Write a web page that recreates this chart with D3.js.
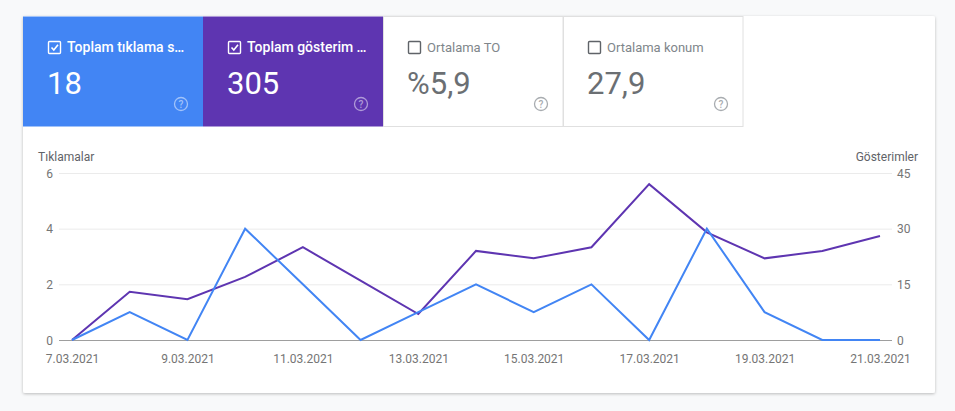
<!DOCTYPE html>
<html>
<head>
<meta charset="utf-8">
<script src="https://cdn.jsdelivr.net/npm/d3@7"></script>
<style>
  body { margin: 0; background: #f8f9fa; font-family: Roboto, "Noto Sans", sans-serif; }
</style>
</head>
<body>
<script>
// size of the page
var W = 955, H = 411;

// data
var dates = ["7.03.2021","8.03.2021","9.03.2021","10.03.2021","11.03.2021","12.03.2021","13.03.2021",
             "14.03.2021","15.03.2021","16.03.2021","17.03.2021","18.03.2021","19.03.2021","20.03.2021","21.03.2021"];
var clicks = [0, 1, 0, 4, 2, 0, 1, 2, 1, 2, 0, 4, 1, 0, 0];
var impressions = [0, 13, 11, 17, 25, 16, 7, 24, 22, 25, 42, 29, 22, 24, 28];
var leftTicks = [0, 2, 4, 6];
var rightTicks = [0, 15, 30, 45];

// the four tiles on top
var tileLabels = ["Toplam tıklama s…", "Toplam gösterim …", "Ortalama TO", "Ortalama konum"];
var tileValues = ["18", "305", "%5,9", "27,9"];
var tileChecked = [true, true, false, false];
var tileColors = ["#4285f4", "#5e35b1", "#ffffff", "#ffffff"];

var svg = d3.select("body").append("svg")
  .attr("width", W)
  .attr("height", H);

var defs = svg.append("defs");
var f = defs.append("filter").attr("id", "shadow").attr("x", "-5%").attr("y", "-5%").attr("width", "110%").attr("height", "115%");
f.append("feDropShadow").attr("dx", 0).attr("dy", 1).attr("stdDeviation", 1.5).attr("flood-color", "#000").attr("flood-opacity", 0.25);

//the card
svg.append("rect")
  .attr("x", 23).attr("y", 16)
  .attr("width", 912).attr("height", 377)
  .attr("rx", 2)
  .style("fill", "white")
  .attr("filter", "url(#shadow)");

var tileW = 180, tileH = 110;
var tiles = svg.selectAll("g.tile")
  .data(tileLabels)
  .enter().append("g")
  .attr("class", "tile")
  .attr("transform", function(d, i){return "translate(" + (23 + i*tileW) + ", 16)"});

tiles.append("rect")
  .attr("x", function(d, i){return tileChecked[i] ? 0 : 0.5})
  .attr("y", 0.5)
  .attr("width", function(d, i){return tileChecked[i] ? tileW : tileW - 0.5})
  .attr("height", tileH)
  .style("fill", function(d, i){return tileColors[i]})
  .style("stroke", function(d, i){return tileChecked[i] ? "none" : "#e0e0e0"});

//checkbox
tiles.append("rect")
  .attr("x", 25.5).attr("y", 25.5)
  .attr("width", 12).attr("height", 12)
  .attr("rx", 1)
  .style("fill", "none")
  .style("stroke", function(d, i){return tileChecked[i] ? "white" : "#5f6368"})
  .style("stroke-width", 1.4);

tiles.filter(function(d, i){return tileChecked[i]})
  .append("path")
  .attr("d", "M28.5,31.5 L30.8,34 L35,28.8")
  .style("fill", "none")
  .style("stroke", "white")
  .style("stroke-width", 1.6);

tiles.append("text")
  .text(function(d){return d})
  .attr("x", 44).attr("y", 36)
  .attr("font-size", function(d, i){return tileChecked[i] ? "14px" : "13px"})
  .attr("font-weight", function(d, i){return tileChecked[i] ? 500 : 400})
  .style("fill", function(d, i){return tileChecked[i] ? "white" : "#80868b"});

tiles.append("text")
  .text(function(d, i){return tileValues[i]})
  .attr("x", 24).attr("y", 78)
  .attr("font-size", "31px")
  .style("fill", function(d, i){return tileChecked[i] ? "white" : "#6b6f73"});

//help icons
var help = tiles.append("g").attr("transform", "translate(158, 88)");
help.append("circle")
  .attr("r", 6.5)
  .style("fill", "none")
  .style("stroke", function(d, i){return tileChecked[i] ? "rgba(255,255,255,0.5)" : "#a8acb0"})
  .style("stroke-width", 1.3);
help.append("text")
  .text("?")
  .attr("text-anchor", "middle")
  .attr("y", 3.8)
  .attr("font-size", "10px")
  .attr("font-weight", 500)
  .style("fill", function(d, i){return tileChecked[i] ? "rgba(255,255,255,0.5)" : "#a8acb0"});

// chart
var x0 = 72, x1 = 880, yTop = 173, yBot = 340;

var x = d3.scalePoint().domain(dates).range([x0, x1]);
var yL = d3.scaleLinear().domain([0, 6]).range([yBot, yTop]);
var yR = d3.scaleLinear().domain([0, 45]).range([yBot, yTop]);

var chart = svg.append("g");

chart.selectAll("line.grid")
  .data(leftTicks.slice(1))
  .enter().append("line")
  .attr("x1", 59).attr("x2", 892)
  .attr("y1", function(d){return yL(d) + 0.5})
  .attr("y2", function(d){return yL(d) + 0.5})
  .style("stroke", "#ebebeb");

chart.append("line")
  .attr("x1", 59).attr("x2", 892)
  .attr("y1", yBot + 0.5).attr("y2", yBot + 0.5)
  .style("stroke", "#9e9e9e");

var leftAxis = chart.append("g")
  .attr("transform", "translate(53, 0)")
  .call(d3.axisLeft(yL).tickValues(leftTicks).tickFormat(d3.format("d")).tickSize(0).tickPadding(0));
var rightAxis = chart.append("g")
  .attr("transform", "translate(897, 0)")
  .call(d3.axisRight(yR).tickValues(rightTicks).tickFormat(d3.format("d")).tickSize(0).tickPadding(0));
var bottomAxis = chart.append("g")
  .attr("transform", "translate(0, " + yBot + ")")
  .call(d3.axisBottom(x).tickValues(dates.filter(function(d, i){return i % 2 == 0})).tickSize(0).tickPadding(14));

[leftAxis, rightAxis, bottomAxis].forEach(function(a){
  a.select(".domain").remove();
  a.selectAll("text")
    .attr("font-family", "Roboto, sans-serif")
    .attr("font-size", "12px")
    .style("fill", "#757575");
});
leftAxis.selectAll("text").attr("dy", "0.35em");
rightAxis.selectAll("text").attr("dy", "0.35em");

chart.append("text")
  .text("Tıklamalar")
  .attr("x", 38).attr("y", 161)
  .attr("font-size", "12px")
  .style("fill", "#5f6368");
chart.append("text")
  .text("Gösterimler")
  .attr("x", 918).attr("y", 161)
  .attr("text-anchor", "end")
  .attr("font-size", "12px")
  .style("fill", "#5f6368");

var lineL = d3.line()
  .x(function(d, i){return x(dates[i])})
  .y(function(d){return yL(d)});
var lineR = d3.line()
  .x(function(d, i){return x(dates[i])})
  .y(function(d){return yR(d)});

chart.append("path")
  .datum(impressions)
  .attr("d", lineR)
  .style("fill", "none")
  .style("stroke", "#5e35b1")
  .style("stroke-width", 2);

chart.append("path")
  .datum(clicks)
  .attr("d", lineL)
  .style("fill", "none")
  .style("stroke", "#4285f4")
  .style("stroke-width", 2);
</script>
</body>
</html>
